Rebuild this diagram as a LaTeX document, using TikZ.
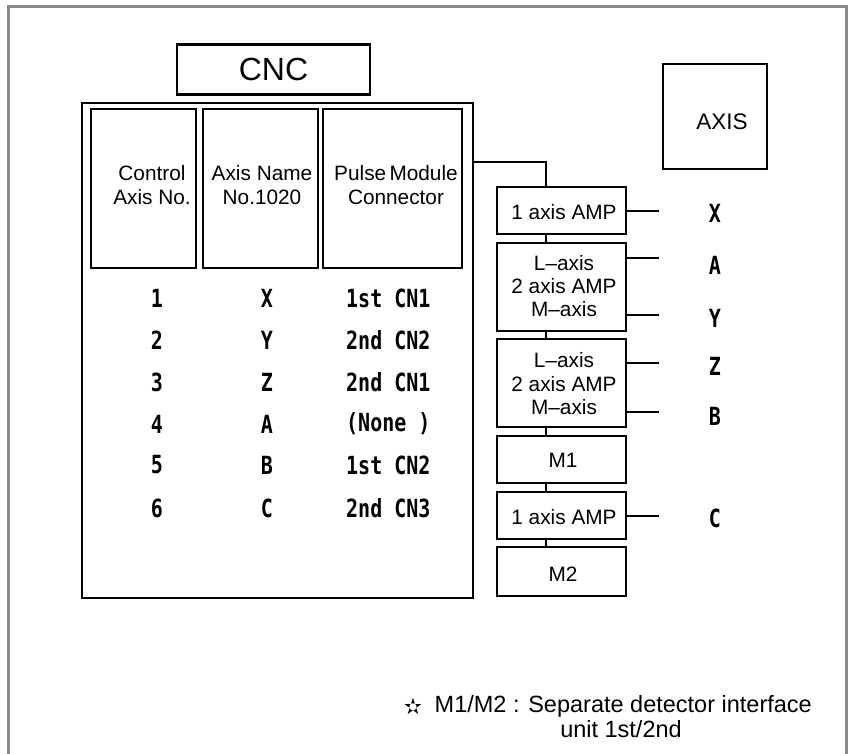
\documentclass[tikz,border=0pt]{standalone}
\usepackage{fontspec}
\setmainfont{Liberation Sans}
\newfontfamily\goth[FakeStretch=0.8]{DejaVu Sans Mono}
\newfontfamily\symf{DejaVu Sans}
\definecolor{framegray}{HTML}{8A8A8A}
\begin{document}
\begin{tikzpicture}[x=1pt,y=-1pt,
  box/.style={draw,line width=2.4pt,inner sep=0pt},
  conn/.style={line width=2.2pt},
  hel/.style={font=\fontsize{20.8}{24}\selectfont,align=center,inner sep=0pt},
  gt/.style={font=\goth\bfseries\fontsize{25}{27}\selectfont,inner sep=0pt},
  fn/.style={font=\fontsize{23.5}{25}\selectfont,inner sep=0pt}]
\useasboundingbox (0,0) rectangle (849,754);
\fill[white] (0,0) rectangle (849,754);
\draw[framegray,line width=3pt] (8,760) -- (8,7) -- (846,7) -- (846,760);

% CNC title
\node[box,minimum width=193pt,minimum height=50pt,font=\fontsize{32}{34}\selectfont] (cnc) at (273.5,69.5) {CNC};
% CNC frame
\node[box,minimum width=391pt,minimum height=495pt] (cncframe) at (277.5,350.5) {};
% header boxes
\node[box,minimum width=105pt,minimum height=159pt] (h1) at (143.5,188.5) {};
\node[box,minimum width=115pt,minimum height=159pt] (h2) at (260.5,188.5) {};
\node[box,minimum width=139pt,minimum height=159pt] (h3) at (392.5,188.5) {};
\node[hel] (h1t) at (152,185) {Control\\Axis No.};
\node[hel] (h2t) at (262,185) {Axis Name\\No.1020};
\node[hel] (h3t) at (396,185) {Pulse\hspace{-0.12em} Module\\Connector};

% table rows
\foreach \n/\yy/\ax/\pm in {1/298/X/1st CN1,2/340/Y/2nd CN2,3/382/Z/2nd CN1,4/424/A/(None ),5/465/B/1st CN2,6/508/C/2nd CN3}{
  \node[gt] (num\n) at (157,\yy) {\n};
  \node[gt] (ax\n) at (267,\yy) {\ax};
  \node[gt,anchor=west] (pm\n) at (346,\yy) {\pm};
}

% AXIS box
\node[box,minimum width=104pt,minimum height=105pt] (axis) at (715,116.5) {};
\node[inner sep=0pt,font=\fontsize{22.5}{24}\selectfont] (axist) at (722,122) {AXIS};

% amplifier chain
\node[box,minimum width=129pt,minimum height=47pt] (a1) at (561.5,210.5) {};
\node[box,minimum width=129pt,minimum height=88pt] (a2) at (561.5,287) {};
\node[box,minimum width=129pt,minimum height=88pt] (a3) at (561.5,383) {};
\node[box,minimum width=129pt,minimum height=47pt] (m1) at (561.5,459.5) {};
\node[box,minimum width=129pt,minimum height=47pt] (a4) at (561.5,515.5) {};
\node[box,minimum width=129pt,minimum height=49pt] (m2) at (561.5,571.5) {};

\node[hel] (a1t) at (564,212) {1 axis AMP};
\node[hel] (a2t1) at (564,263) {L--axis};
\node[hel] (a2t2) at (564,286) {2 axis AMP};
\node[hel] (a2t3) at (564,309) {M--axis};
\node[hel] (a3t1) at (564,360) {L--axis};
\node[hel] (a3t2) at (564,384) {2 axis AMP};
\node[hel] (a3t3) at (564,407) {M--axis};
\node[hel] (m1t) at (563,460) {M1};
\node[hel] (a4t) at (564,517) {1 axis AMP};
\node[hel] (m2t) at (563,574) {M2};

\coordinate (j) at (546,162);
\draw[conn] (cncframe.east |- j) -- (j) -- (a1.north -| j);
\draw[conn] (a1.south -| j) -- (a2.north -| j);
\draw[conn] (a2.south -| j) -- (a3.north -| j);
\draw[conn] (a3.south -| j) -- (m1.north -| j);
\draw[conn] (m1.south -| j) -- (a4.north -| j);
\draw[conn] (a4.south -| j) -- (m2.north -| j);

% outputs
\coordinate (oX) at (659,211);
\coordinate (oA) at (659,258);
\coordinate (oY) at (659,315);
\coordinate (oZ) at (659,363);
\coordinate (oB) at (659,412);
\coordinate (oC) at (659,516);
\draw[conn] (a1.east |- oX) -- (oX);
\draw[conn] (a2.east |- oA) -- (oA);
\draw[conn] (a2.east |- oY) -- (oY);
\draw[conn] (a3.east |- oZ) -- (oZ);
\draw[conn] (a3.east |- oB) -- (oB);
\draw[conn] (a4.east |- oC) -- (oC);
\node[gt] (lX) at (715,213) {X};
\node[gt] (lA) at (715,265) {A};
\node[gt] (lY) at (715,318) {Y};
\node[gt] (lZ) at (715,366) {Z};
\node[gt] (lB) at (715,416) {B};
\node[gt] (lC) at (715,518) {C};

% footnote
\node[fn,anchor=east] (fn1) at (812,706) {M1/M2 : Separate detector interface};
\node[inner sep=0pt,font=\symf\fontsize{22}{24}\selectfont,anchor=east] (star) at ([xshift=-12pt]fn1.west) {✫};
\node[fn] (fn2) at (621,729) {unit 1st/2nd};
\end{tikzpicture}
\end{document}
